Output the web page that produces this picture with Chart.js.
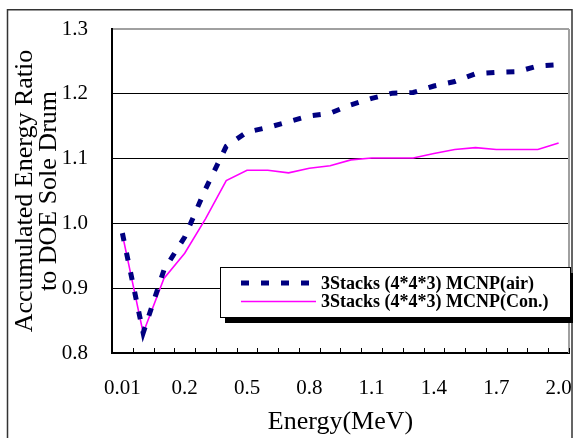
<!DOCTYPE html>
<html>
<head>
<meta charset="utf-8">
<script src="https://cdn.jsdelivr.net/npm/chart.js@4.4.0/dist/chart.umd.min.js"></script>
<style>
  html, body { margin: 0; padding: 0; background: #fff; }
  #wrap { width: 573px; height: 438px; }
</style>
</head>
<body>
<div id="wrap"><canvas id="chart"></canvas></div>
<script>
// energy bins (MeV), only every third one gets a label
const energyLabels = ['0.01', '0.05', '0.1', '0.2', '0.3', '0.4', '0.5', '0.6', '0.7', '0.8', '0.9',
  '1.0', '1.1', '1.2', '1.3', '1.4', '1.5', '1.6', '1.7', '1.8', '1.9', '2.0'];
const shownLabels = ['0.01', '0.2', '0.5', '0.8', '1.1', '1.4', '1.7', '2.0'];

const airValues = [0.985, 0.831, 0.928, 0.979, 1.053, 1.119, 1.141, 1.148, 1.157, 1.166, 1.170,
  1.183, 1.193, 1.201, 1.202, 1.212, 1.219, 1.231, 1.233, 1.234, 1.243, 1.245];
const conValues = [0.983, 0.831, 0.915, 0.954, 1.007, 1.066, 1.082, 1.082, 1.078, 1.085, 1.089,
  1.098, 1.101, 1.101, 1.101, 1.108, 1.114, 1.117, 1.114, 1.114, 1.114, 1.124];

const seriesNames = ['3Stacks (4*4*3) MCNP(air)', '3Stacks (4*4*3) MCNP(Con.)'];
const yMin = 0.8, yMax = 1.3, yStep = 0.1;

const serif = "'Liberation Serif', 'Times New Roman', serif";

// frame, inner ticks, right border and the boxed legend with its shadow
const decorations = {
  id: 'decorations',
  afterDraw: (chart) => {
    const {ctx, chartArea} = chart;
    const xs = chart.scales.x;
    ctx.save();

    // outer frame
    ctx.strokeStyle = '#333';
    ctx.lineWidth = 1.5;
    ctx.strokeRect(7.5, 9.75, 564.5, 440);

    // right border of the plot
    ctx.strokeStyle = '#a0a0a0';
    ctx.lineWidth = 2;
    ctx.beginPath();
    ctx.moveTo(chartArea.right, chartArea.top);
    ctx.lineTo(chartArea.right, chartArea.bottom);
    ctx.stroke();

    // tick marks between categories, pointing inward
    const w = xs.getPixelForValue(1) - xs.getPixelForValue(0);
    ctx.strokeStyle = '#000';
    ctx.lineWidth = 1;
    for (let i = 0; i <= energyLabels.length; i++) {
      const px = Math.round(xs.getPixelForValue(0) - w / 2 + i * w) + 0.5;
      ctx.beginPath();
      ctx.moveTo(px, chartArea.bottom);
      ctx.lineTo(px, chartArea.bottom - 5);
      ctx.stroke();
    }

    // legend box
    const bx = 220, by = 267, bw = 350, bh = 50;
    ctx.fillStyle = '#000';
    ctx.fillRect(bx + 5, by + 6, bw + 4, bh);
    ctx.fillStyle = '#fff';
    ctx.fillRect(bx, by, bw, bh);
    ctx.strokeStyle = '#000';
    ctx.lineWidth = 1;
    ctx.strokeRect(bx + 0.5, by + 0.5, bw, bh);

    const rowY = [283, 301.5];
    chart.data.datasets.forEach((ds, i) => {
      ctx.save();
      ctx.strokeStyle = ds.borderColor;
      ctx.lineWidth = ds.borderWidth;
      ctx.setLineDash(ds.borderDash || []);
      ctx.lineCap = 'butt';
      ctx.beginPath();
      ctx.moveTo(241, rowY[i]);
      ctx.lineTo(316, rowY[i]);
      ctx.stroke();
      ctx.restore();
      ctx.fillStyle = '#000';
      ctx.font = 'bold 18px ' + serif;
      ctx.textBaseline = 'middle';
      ctx.textAlign = 'left';
      ctx.fillText(ds.label, 321, rowY[i] + 1);
    });
    ctx.restore();
  }
};

const ctx = document.getElementById('chart');
new Chart(ctx, {
  type: 'line',
  data: {
    labels: energyLabels,
    datasets: [{
      label: seriesNames[0],
      data: airValues,
      borderColor: '#000080',
      borderWidth: 5,
      borderDash: [8, 12],
      borderCapStyle: 'butt',
      pointRadius: 0,
      tension: 0,
      fill: false
    }, {
      label: seriesNames[1],
      data: conValues,
      borderColor: '#ff00ff',
      borderWidth: 1.6,
      pointRadius: 0,
      tension: 0,
      fill: false
    }]
  },
  plugins: [decorations],
  options: {
    responsive: true,
    maintainAspectRatio: false,
    animation: false,
    events: [],
    layout: {
      padding: {top: 29, right: 4, left: 0, bottom: 0}
    },
    plugins: {
      legend: {display: false},
      tooltip: {enabled: false}
    },
    scales: {
      x: {
        type: 'category',
        offset: true,
        afterFit: (scale) => {
          scale.height = 85;
          scale.paddingLeft = 0;
          scale.paddingRight = 0;
        },
        grid: {
          display: true,
          drawOnChartArea: false,
          drawTicks: false,
          offset: true
        },
        border: {display: true, color: '#000', width: 2},
        ticks: {
          autoSkip: false,
          maxRotation: 0,
          padding: 23,
          color: '#000',
          font: {family: serif, size: 21},
          callback: function (value) {
            const lab = this.getLabelForValue(value);
            return shownLabels.includes(lab) ? lab : '';
          }
        },
        title: {
          display: true,
          text: 'Energy(MeV)',
          color: '#000',
          font: {family: serif, size: 26},
          padding: {top: 0, bottom: 0}
        }
      },
      y: {
        min: yMin,
        max: yMax,
        afterFit: (scale) => {
          scale.width = 112;
          scale.paddingTop = 0;
          scale.paddingBottom = 0;
        },
        grid: {
          drawTicks: false,
          color: (c) => c.tick && Math.abs(c.tick.value - yMax) < 1e-6 ? '#a0a0a0' : '#000',
          lineWidth: (c) => c.tick && Math.abs(c.tick.value - yMax) < 1e-6 ? 2 : 1
        },
        border: {display: true, color: '#000', width: 2},
        ticks: {
          stepSize: yStep,
          padding: 24,
          color: '#000',
          font: {family: serif, size: 21},
          callback: (v) => Number(v).toFixed(1)
        },
        title: {
          display: true,
          text: ['Accumulated Energy Ratio', 'to DOE Sole Drum'],
          color: '#000',
          font: {family: serif, size: 26, lineHeight: 0.93},
          padding: {top: 13, bottom: 0}
        }
      }
    }
  }
});
</script>
</body>
</html>
